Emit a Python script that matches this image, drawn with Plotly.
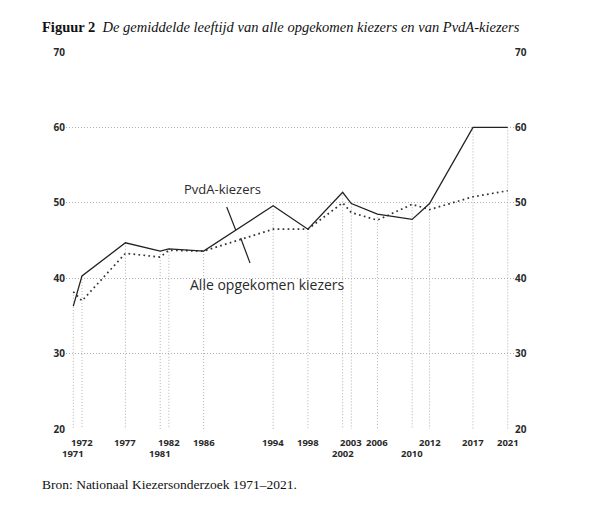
import plotly.graph_objects as go

years = [1971, 1972, 1977, 1981, 1982, 1986, 1994, 1998, 2002, 2003, 2006, 2010, 2012, 2017, 2021]
pvda = [36.3, 40.3, 44.7, 43.6, 43.9, 43.6, 49.6, 46.5, 51.4, 49.9, 48.5, 47.8, 49.9, 60.0, 60.0]
alle = [38.2, 37.0, 43.3, 42.8, 43.7, 43.6, 46.5, 46.5, 50.0, 48.7, 47.7, 49.8, 49.1, 50.8, 51.6]
tick_row2 = [1971, 1981, 2002, 2010]
y_ticks = [20, 30, 40, 50, 60, 70]

title_bold = "Figuur 2"
title_italic = "De gemiddelde leeftijd van alle opgekomen kiezers en van PvdA-kiezers"
source = "Bron: Nationaal Kiezersonderzoek 1971–2021."
label_pvda = "PvdA-kiezers"
label_alle = "Alle opgekomen kiezers"

SANS = "Open Sans"
SERIF = "Liberation Serif"
INK = "#2a2a2a"
GRID = "#b0b0b0"

W, H = 600, 521
ML, MR, MT, MB = 66, 86, 52, 92
PW, PH = W - ML - MR, H - MT - MB
YMIN, YMAX = 20, 70
XMIN, XMAX = 1970.16, 2021.72

def px_to_paper_y(py):
    return (H - MB - py) / PH

def px_to_paper_x(px):
    return (px - ML) / PW

fig = go.Figure()

# vertical drop lines
dx, dy = [], []
for yr, a, b in zip(years, pvda, alle):
    dx += [yr, yr, None]
    dy += [max(a, b), YMIN, None]
fig.add_trace(go.Scatter(x=dx, y=dy, mode="lines",
                         line=dict(color=GRID, width=1, dash="1px,2px"),
                         hoverinfo="skip", showlegend=False))

fig.add_trace(go.Scatter(x=years, y=alle, mode="lines", name=label_alle,
                         line=dict(color="#333333", width=1.7, dash="1.7px,3.3px"),
                         showlegend=False))
fig.add_trace(go.Scatter(x=years, y=pvda, mode="lines", name=label_pvda,
                         line=dict(color="#222222", width=1.3),
                         showlegend=False))
# invisible trace for the right axis
fig.add_trace(go.Scatter(x=[years[0]], y=[YMIN], yaxis="y2", mode="markers",
                         marker=dict(opacity=0), hoverinfo="skip", showlegend=False))

annotations = []
# x tick labels (two rows)
for yr in years:
    row2 = yr in tick_row2
    annotations.append(dict(x=yr, xref="x", y=px_to_paper_y(453 if row2 else 442),
                            yref="paper", text=str(yr), showarrow=False,
                            xanchor="center", yanchor="middle",
                            font=dict(family=SANS, size=9.5, color=INK, weight=700)))

# series labels
annotations.append(dict(x=px_to_paper_x(222), xref="paper", y=px_to_paper_y(189), yref="paper",
                        text=label_pvda, showarrow=False, xanchor="center", yanchor="middle",
                        font=dict(family=SANS, size=13, color=INK)))
annotations.append(dict(x=px_to_paper_x(188), xref="paper", y=px_to_paper_y(284), yref="paper",
                        text=label_alle, showarrow=False, xanchor="left", yanchor="middle",
                        font=dict(family=SANS, size=14, color=INK)))

# title
annotations.append(dict(x=px_to_paper_x(40), xref="paper", y=px_to_paper_y(27), yref="paper",
                        text="<b>" + title_bold + "</b>  <i>" + title_italic + "</i>",
                        showarrow=False, xanchor="left", yanchor="middle",
                        font=dict(family=SERIF, size=14.5, color="#111111")))
# source
annotations.append(dict(x=px_to_paper_x(40), xref="paper", y=px_to_paper_y(484), yref="paper",
                        text=source, showarrow=False, xanchor="left", yanchor="middle",
                        font=dict(family=SERIF, size=13.5, color="#111111")))

shapes = [
    dict(type="line", xref="paper", yref="paper",
         x0=px_to_paper_x(226.7), y0=px_to_paper_y(207), x1=px_to_paper_x(235.7), y1=px_to_paper_y(230),
         line=dict(color="#222222", width=1.2)),
    dict(type="line", xref="paper", yref="paper",
         x0=px_to_paper_x(240.7), y0=px_to_paper_y(238), x1=px_to_paper_x(250), y1=px_to_paper_y(263),
         line=dict(color="#222222", width=1.2)),
]

fig.update_layout(
    width=W, height=H,
    margin=dict(l=ML, r=MR, t=MT, b=MB),
    paper_bgcolor="white", plot_bgcolor="white",
    xaxis=dict(range=[XMIN, XMAX], showgrid=False, zeroline=False, showticklabels=False,
               showline=False, ticks=""),
    yaxis=dict(range=[YMIN, YMAX], tickvals=y_ticks, showgrid=True, gridcolor=GRID,
               griddash="1px,2px", gridwidth=1, zeroline=False, showline=False, ticks="",
               tickfont=dict(family=SANS, size=10, color=INK, weight=700)),
    yaxis2=dict(range=[YMIN, YMAX], tickvals=y_ticks, overlaying="y", side="right",
                showgrid=False, zeroline=False, showline=False, ticks="",
                tickfont=dict(family=SANS, size=10, color=INK, weight=700)),
    annotations=annotations,
    shapes=shapes,
    showlegend=False,
)

fig.write_html("out.html", config={"displayModeBar": False},
               post_script="document.body.style.margin='0';document.body.style.padding='0';")
